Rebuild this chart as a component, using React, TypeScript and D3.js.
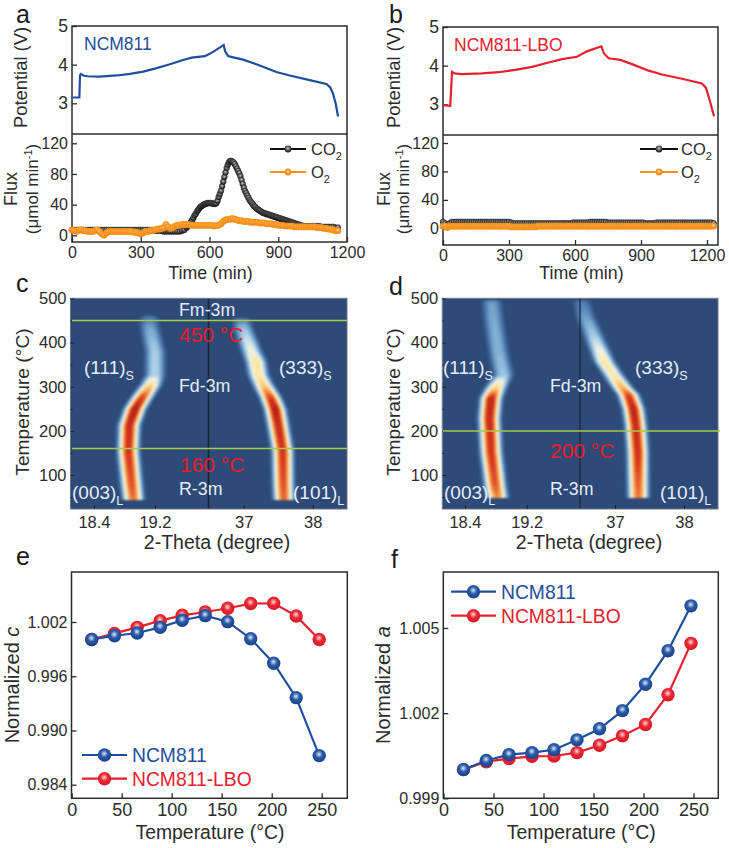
import React, { useEffect, useRef } from 'react';
import * as d3 from 'd3';

const BLUE = '#1f4e9e';
const RED = '#e8202e';
const ORANGE = '#f7911a';
const INK = '#2b2b2b';
const FONT = '"Liberation Sans", Arial, sans-serif';

// potential curves
const aTime = [3, 32, 35, 39, 49, 67, 122, 195, 253, 311, 369, 427, 485, 522, 580, 616, 662, 668, 681, 703, 747, 819, 892, 950, 1037, 1110, 1127, 1139, 1151, 1161];
const aVolt = [3.15, 3.15, 3.73, 3.76, 3.72, 3.7, 3.69, 3.72, 3.76, 3.82, 3.91, 4.01, 4.12, 4.18, 4.22, 4.33, 4.51, 4.35, 4.22, 4.19, 4.13, 3.98, 3.81, 3.72, 3.6, 3.5, 3.41, 3.25, 2.98, 2.66];
const bTime = [0, 33, 41, 53, 86, 177, 253, 329, 405, 480, 541, 609, 654, 720, 731, 753, 806, 859, 935, 995, 1086, 1177, 1195, 1210, 1232];
const bVolt = [2.98, 2.96, 3.84, 3.8, 3.78, 3.8, 3.83, 3.89, 3.97, 4.08, 4.17, 4.23, 4.37, 4.5, 4.32, 4.19, 4.15, 4.04, 3.87, 3.77, 3.66, 3.54, 3.43, 3.15, 2.69];

// flux readings: every 10 min, every 5 min through the CO2 peak of panel a
const aCO2Time = [...d3.range(0, 500, 10), ...d3.range(500, 1000, 5), ...d3.range(1000, 1165, 10)];
const aCO2 = [
  7, 7, 7, 7, 7, 7, 7, 7, 7, 7, 7, 7, 7, 7, 7, 7, 7, 7, 7, 7, 7, 7, 7, 7, 7, 7, 7, 7, 7, 7,
  7, 7, 7, 7, 7, 7, 6, 6, 6, 6, 5, 5, 5, 5, 5, 5, 5, 5, 6, 7,
  10, 12, 14, 16, 18, 20, 23, 26, 28, 31, 33, 35, 37, 38, 39, 40, 41, 41, 42, 42,
  42, 42, 42, 41, 41, 41, 42, 45, 50, 54, 58, 64, 70, 76, 82, 88, 92, 95, 97, 97,
  96, 95, 93, 90, 87, 84, 81, 77, 72, 67, 62, 58, 55, 52, 49, 46, 44, 42, 40, 38,
  37, 35, 34, 33, 32, 31, 30, 29, 29, 28, 28, 27, 27, 26, 26, 25, 25, 24, 24, 23,
  23, 22, 22, 21, 21, 20, 20, 19, 19, 18, 18, 17, 17, 16, 16, 15, 15, 14, 14, 13,
  13, 12, 12, 12, 12, 12, 12, 12, 12, 11, 11, 11, 11, 11, 11, 10, 10,
];
const aO2 = [
  7, 6, 5, 7, 7, 6, 6, 5, 5, 5, 6, 7, 5, 2, 0, 3, 5, 5, 5, 5, 5, 5, 5, 5, 5, 5, 5, 4, 4, 3,
  2, 3, 5, 5, 6, 6, 7, 8, 8, 9, 10, 14, 11, 9, 10, 12, 13, 13, 14, 14, 14, 14, 13, 13, 13, 13, 13, 13, 13, 13,
  13, 13, 12, 13, 13, 15, 18, 20, 21, 21, 22, 21, 20, 19, 19, 18, 18, 18, 17, 17, 17, 17, 16, 16, 16, 15, 15, 15, 14, 14,
  13, 13, 13, 12, 12, 12, 12, 11, 11, 11, 11, 11, 11, 11, 11, 11, 11, 10, 10, 10, 9, 9, 8, 8, 7, 6, 6,
];
const aO2Time = d3.range(0, 1165, 10);
const bFluxTime = d3.range(0, 1235, 10);
const bCO2 = [
  9, 7, 5, 7, 9, 9, 9, 9, 9, 9, 9, 9, 9, 9, 9, 9, 9, 9, 9, 9, 9, 9, 9, 9, 9, 9, 9, 9, 9, 9,
  9, 8, 7, 7, 7, 7, 7, 7, 7, 7, 7, 7, 7, 7, 7, 7, 7, 7, 7, 7, 7, 7, 7, 7, 7, 7, 7, 7, 7, 8,
  8, 8, 8, 8, 8, 8, 8, 9, 9, 9, 9, 9, 9, 9, 9, 8, 8, 8, 8, 8, 8, 8, 8, 8, 8, 8, 8, 8, 8, 8,
  8, 8, 7, 7, 7, 7, 7, 8, 8, 8, 8, 8, 8, 8, 8, 8, 8, 8, 8, 8, 8, 8, 8, 8, 8, 8, 8, 8, 8, 8, 8, 8, 8, 7,
];
const bO2 = [
  3, 3, 1, 3, 3, 3, 3, 3, 3, 3, 3, 3, 3, 3, 3, 3, 3, 3, 3, 3, 3, 3, 3, 3, 3, 3, 3, 3, 3, 3,
  3, 2, 2, 2, 2, 2, 2, 2, 2, 2, 2, 2, 2, 3, 3, 3, 3, 3, 3, 3, 3, 3, 3, 3, 3, 3, 3, 3, 3, 3,
  3, 3, 3, 3, 3, 3, 3, 3, 3, 3, 3, 3, 3, 3, 3, 3, 3, 3, 3, 3, 3, 3, 3, 3, 3, 3, 3, 3, 3, 3,
  3, 3, 3, 3, 3, 3, 3, 3, 3, 3, 3, 3, 3, 3, 3, 3, 3, 3, 3, 3, 3, 3, 3, 3, 3, 3, 3, 3, 3, 3, 3, 3, 3, 3,
];

// heatmap ridges: temperature, peak position (2-theta), peak intensity 0-1
const cLeftT = [44, 78, 153, 213, 250, 278, 304, 327, 380, 432, 462];
const cLeftPos = [18.916, 18.894, 18.85, 18.863, 18.938, 19.039, 19.144, 19.2, 19.2, 19.134, 19.12];
const cLeftI = [0.76, 0.82, 0.88, 0.92, 0.98, 0.84, 0.58, 0.3, 0.28, 0.2, 0.08];
const cRightT = [44, 78, 153, 213, 250, 278, 304, 327, 357, 380, 432, 455];
const cRightPos = [37.584, 37.574, 37.565, 37.5, 37.454, 37.381, 37.284, 37.212, 37.178, 37.116, 36.995, 36.971];
const cRightI = [0.78, 0.82, 0.88, 0.92, 0.98, 0.85, 0.6, 0.52, 0.55, 0.42, 0.26, 0.1];
const dLeftT = [48, 78, 153, 229, 274, 297, 327, 380, 455, 496];
const dLeftPos = [18.82, 18.79, 18.738, 18.716, 18.738, 18.798, 18.898, 18.833, 18.768, 18.746];
const dLeftI = [0.72, 0.82, 0.88, 0.92, 0.95, 0.6, 0.26, 0.22, 0.2, 0.17];
const dRightT = [48, 153, 214, 251, 282, 300, 327, 357, 417, 462, 496];
const dRightPos = [37.338, 37.329, 37.3, 37.265, 37.193, 37.097, 36.975, 36.845, 36.686, 36.565, 36.517];
const dRightI = [0.75, 0.9, 0.92, 0.95, 0.85, 0.65, 0.5, 0.52, 0.28, 0.17, 0.1];

// normalized lattice parameters
const tempC = [20, 42.8, 65.5, 88.5, 110.5, 133.5, 156, 179, 202, 224.5, 247.5];
const cNcm = [1.00007, 1.00048, 1.00078, 1.00141, 1.00219, 1.0027, 1.00204, 1.00015, 0.99744, 0.99363, 0.98722];
const cLbo = [1.00007, 1.00074, 1.00141, 1.00215, 1.00274, 1.00311, 1.00352, 1.00404, 1.00407, 1.00267, 1.00007];
const aNcm = [1.00001, 1.00033, 1.00054, 1.00061, 1.00071, 1.00106, 1.00145, 1.00209, 1.00302, 1.0042, 1.00578];
const aLbo = [1.00001, 1.00029, 1.0004, 1.00048, 1.00049, 1.00061, 1.00087, 1.0012, 1.0016, 1.00265, 1.00446];

type Sel = d3.Selection<any, unknown, null, undefined>;

const heatColor = d3.scaleLinear<string>()
  .domain([0, 0.1, 0.25, 0.38, 0.52, 0.68, 0.84, 1])
  .range(['#2d4a78', '#4f7fb2', '#9cc8e4', '#eef2ea', '#fbe6a0', '#f6a052', '#dc3a20', '#a41c14']);

function addSphere(defs: Sel, id: string, light: string, mid: string, dark: string) {
  const g = defs.append('radialGradient').attr('id', id)
    .attr('cx', '48%').attr('cy', '40%').attr('r', '60%');
  g.append('stop').attr('offset', '0%').attr('stop-color', light);
  g.append('stop').attr('offset', '45%').attr('stop-color', mid);
  g.append('stop').attr('offset', '100%').attr('stop-color', dark);
}

function text(g: Sel, x: number, y: number, s: string, size: number, fill = INK, anchor = 'start') {
  return g.append('text').attr('x', x).attr('y', y).attr('font-size', size)
    .attr('fill', fill).attr('text-anchor', anchor).text(s);
}

function vText(g: Sel, x: number, y: number, s: string, size: number) {
  return g.append('text').attr('transform', `translate(${x},${y}) rotate(-90)`)
    .attr('font-size', size).attr('fill', INK).attr('text-anchor', 'middle').text(s);
}

// label with a trailing subscript
function subText(g: Sel, x: number, y: number, s: string, sub: string, size: number, fill: string) {
  const t = g.append('text').attr('x', x).attr('y', y).attr('font-size', size).attr('fill', fill);
  t.append('tspan').text(s);
  t.append('tspan').attr('dy', size * 0.3).attr('font-size', size * 0.66).text(sub);
}

function fluxTitle(g: Sel, x1: number, x2: number, y: number, size: number) {
  vText(g, x1, y, 'Flux', size + 1);
  const t = vText(g, x2, y, '', size);
  t.append('tspan').text('(μmol min');
  t.append('tspan').attr('dy', -size * 0.35).attr('font-size', size * 0.65).text('-1');
  t.append('tspan').attr('dy', size * 0.35).text(')');
}

function styleAxis(a: Sel, size: number) {
  a.select('.domain').remove();
  a.selectAll('line').attr('stroke', INK).attr('stroke-width', 1.3);
  a.selectAll('text').attr('font-size', size).attr('fill', INK).attr('font-family', FONT);
}

function frame(g: Sel, x0: number, y0: number, x1: number, y1: number) {
  g.append('rect').attr('x', x0).attr('y', y0).attr('width', x1 - x0).attr('height', y1 - y0)
    .attr('fill', 'none').attr('stroke', INK).attr('stroke-width', 1.5);
}

function bottomAxis(g: Sel, scale: any, ticks: number[], y: number, size: number, pad: number, fmt?: (d: any) => string) {
  const ax = d3.axisBottom(scale).tickValues(ticks).tickSizeInner(-5).tickSizeOuter(0).tickPadding(pad);
  if (fmt) ax.tickFormat(fmt);
  const a = g.append('g').attr('transform', `translate(0,${y})`).call(ax as any);
  styleAxis(a, size);
}

function leftAxis(g: Sel, scale: any, ticks: number[], x: number, size: number, fmt?: (d: any) => string) {
  const ax = d3.axisLeft(scale).tickValues(ticks).tickSizeInner(-5).tickSizeOuter(0).tickPadding(4);
  if (fmt) ax.tickFormat(fmt);
  const a = g.append('g').attr('transform', `translate(${x},0)`).call(ax as any);
  styleAxis(a, size);
}

function drawTopPanel(
  g: Sel, x0: number, x1: number, y0: number, ym: number, y1: number, tMax: number,
  time: number[], volt: number[], co2T: number[], co2: number[], o2T: number[], o2: number[],
  voltY: [number, number], fluxY: [number, number], color: string, label: string, labelX: number,
  titleX: number, fluxX: [number, number], legendX: [number, number, number],
) {
  const x = d3.scaleLinear().domain([0, tMax]).range([x0, x1]);
  const yV = d3.scaleLinear().domain([3, 5]).range(voltY);
  const yF = d3.scaleLinear().domain([0, 120]).range(fluxY);

  frame(g, x0, y0, x1, y1);
  g.append('line').attr('x1', x0).attr('x2', x1).attr('y1', ym).attr('y2', ym)
    .attr('stroke', INK).attr('stroke-width', 1.3);

  leftAxis(g, yV, [3, 4, 5], x0, 17.5, d3.format('d'));
  leftAxis(g, yF, [0, 40, 80, 120], x0, 16, d3.format('d'));
  bottomAxis(g, x, [0, 300, 600, 900, 1200], y1, 16, 5, d3.format('d'));

  const line = d3.line<number>().x((_, i) => x(time[i])).y(d => yV(d));
  g.append('path').attr('d', line(volt)).attr('fill', 'none').attr('stroke', color).attr('stroke-width', 2.2);
  text(g, labelX, y0 + 24, label, 17.5, color);

  const fluxSeries = (times: number[], vals: number[], stroke: string, fill: string, ring: string, r: number) => {
    const fl = d3.line<number>().x((_, i) => x(times[i])).y(d => yF(d));
    g.append('path').attr('d', fl(vals)).attr('fill', 'none').attr('stroke', stroke).attr('stroke-width', 1.2);
    g.append('g').selectAll('circle').data(vals).join('circle')
      .attr('cx', (_, i) => x(times[i])).attr('cy', d => yF(d)).attr('r', r)
      .attr('fill', fill).attr('stroke', ring).attr('stroke-width', 0.5);
  };
  fluxSeries(co2T, co2, '#111', 'url(#ballK)', '#222', 2.9);
  fluxSeries(o2T, o2, ORANGE, 'url(#ballO)', ORANGE, 3.2);

  // legend
  const [lx0, lx1, tx] = legendX;
  [[149, '#111', 'url(#ballK)', 'CO'], [172, ORANGE, 'url(#ballO)', 'O']].forEach(([ly, stroke, fill, name]) => {
    g.append('line').attr('x1', lx0).attr('x2', lx1).attr('y1', ly as number).attr('y2', ly as number)
      .attr('stroke', stroke as string).attr('stroke-width', 1.8);
    g.append('circle').attr('cx', (lx0 + lx1) / 2).attr('cy', ly as number).attr('r', 3.4).attr('fill', fill as string);
    subText(g, tx, (ly as number) + 6, name as string, '2', 16.5, INK);
  });

  g.append('text').attr('x', (x0 + x1) / 2 + 1).attr('y', 279).attr('font-size', 17.8)
    .attr('fill', INK).attr('text-anchor', 'middle').text('Time (min)');
  vText(g, titleX, 77.5, 'Potential (V)', 18.4);
  fluxTitle(g, fluxX[0], fluxX[1], 189, 17);
}

function drawRidge(g: Sel, xs: any, y: any, temps: number[], pos: number[], ints: number[], width: number) {
  const cen = d3.scaleLinear().domain(temps).range(pos);
  const amp = d3.scaleLinear().domain(temps).range(ints);
  const [tLo, tHi] = d3.extent(temps) as [number, number];
  const rows = d3.range(tLo, tHi + 0.01, 3);
  const levels = d3.range(0.025, 1, 0.025);
  // flat-topped peak profile
  const half = (t: number, lv: number) => {
    const a = amp(t);
    return a <= lv ? 0 : width * Math.pow(Math.log(a / lv), 0.4);
  };
  levels.forEach(lv => {
    const area = d3.area<number>()
      .defined(t => amp(t) > lv)
      .y(t => y(t))
      .x0(t => xs(cen(t) - half(t, lv)))
      .x1(t => xs(cen(t) + half(t, lv)))
      .curve(d3.curveBasis);
    g.append('path').attr('d', area(rows)).attr('fill', heatColor(lv));
  });
}

function drawHeat(
  g: Sel, id: string, x0: number, x1: number, breakX: number, leftR: [number, number], rightR: [number, number],
  left: [number[], number[], number[]], right: [number[], number[], number[]], lineW: number,
) {
  const y0 = 298.3, y1 = 509;
  const xL = d3.scaleLinear().domain([18.4, 19.2]).range(leftR);
  const xR = d3.scaleLinear().domain([37, 38]).range(rightR);
  const y = d3.scaleLinear().domain([100, 500]).range([475, 298.5]);

  g.append('clipPath').attr('id', id).append('rect').attr('x', x0).attr('y', y0)
    .attr('width', x1 - x0).attr('height', y1 - y0);
  const inner = g.append('g').attr('clip-path', `url(#${id})`);
  inner.append('rect').attr('x', x0).attr('y', y0).attr('width', x1 - x0).attr('height', y1 - y0).attr('fill', '#2d4a78');
  const blur = inner.append('g').attr('filter', 'url(#soft)');
  drawRidge(blur, xL, y, left[0], left[1], left[2], 0.11);
  drawRidge(blur, xR, y, right[0], right[1], right[2], 0.12);
  inner.append('line').attr('x1', breakX).attr('x2', breakX).attr('y1', y0).attr('y2', y1)
    .attr('stroke', '#1c2530').attr('stroke-width', lineW);

  g.append('rect').attr('x', x0).attr('y', y0).attr('width', x1 - x0).attr('height', y1 - y0)
    .attr('fill', 'none').attr('stroke', '#6d7680').attr('stroke-width', 1);

  const ay = d3.axisLeft(y).tickValues([100, 200, 300, 400, 500]).tickSizeInner(-4).tickSizeOuter(0)
    .tickPadding(4).tickFormat(d3.format('d') as any);
  const ga = g.append('g').attr('transform', `translate(${x0},0)`).call(ay as any);
  styleAxis(ga, 16.5);
  ga.selectAll('line').attr('stroke', '#1c2530').attr('stroke-width', 1);

  const minor = d3.axisLeft(y).tickValues([50, 150, 250, 350, 450]).tickSizeInner(-2).tickSizeOuter(0).tickFormat(() => '');
  const gm = g.append('g').attr('transform', `translate(${x0},0)`).call(minor as any);
  gm.select('.domain').remove();
  gm.selectAll('line').attr('stroke', '#1c2530').attr('stroke-width', 1);

  [[xL, [18.4, 19.2], (d: number) => d.toFixed(1)], [xR, [37, 38], (d: number) => d3.format('d')(d)]].forEach(([sc, ticks, fmt]: any) => {
    const ax = d3.axisBottom(sc).tickValues(ticks).tickSizeInner(-4).tickSizeOuter(0).tickPadding(7).tickFormat(fmt);
    const gx = g.append('g').attr('transform', `translate(0,${y1})`).call(ax as any);
    styleAxis(gx, 16.5);
    gx.selectAll('line').attr('stroke', '#1c2530').attr('stroke-width', 1);
  });
}

function drawLattice(
  g: Sel, x0: number, x1: number, yDomain: [number, number], yRange: [number, number], yTicks: number[],
  ncm: number[], lbo: number[], title: string, titleVar: string, titleX: number, titleY: number, titleSize: number,
  legend: { lx: number; ys: [number, number] },
) {
  const y0 = 572, y1 = 798.3;
  const x = d3.scaleLinear().domain([0, 50]).range([x0 + 0.2, x0 + 50.2]);
  const y = d3.scaleLinear().domain(yDomain).range(yRange);

  frame(g, x0, y0, x1, y1);
  leftAxis(g, y, yTicks, x0, 16, d3.format('.3f'));
  bottomAxis(g, x, [0, 50, 100, 150, 200, 250], y1, 18, 5, d3.format('d'));

  const line = d3.line<number>().x((_, i) => x(tempC[i])).y(d => y(d));
  [[lbo, RED, 'url(#ballR)'], [ncm, BLUE, 'url(#ballB)']].forEach(([vals, col, fill]: any) => {
    g.append('path').attr('d', line(vals)).attr('fill', 'none').attr('stroke', col).attr('stroke-width', 2.2);
    g.append('g').selectAll('circle').data(vals as number[]).join('circle')
      .attr('cx', (_, i) => x(tempC[i])).attr('cy', d => y(d)).attr('r', 6.7).attr('fill', fill);
  });

  const names: [string, string, string][] = [['NCM811', BLUE, 'url(#ballB)'], ['NCM811-LBO', RED, 'url(#ballR)']];
  names.forEach(([name, col, fill], i) => {
    const ly = legend.ys[i];
    g.append('line').attr('x1', legend.lx).attr('x2', legend.lx + 45).attr('y1', ly).attr('y2', ly)
      .attr('stroke', col).attr('stroke-width', 2.2);
    g.append('circle').attr('cx', legend.lx + 22.5).attr('cy', ly).attr('r', 6.7).attr('fill', fill);
    text(g, legend.lx + 50, ly + 7, name, 19.3, col);
  });

  g.append('text').attr('x', (x0 + x1) / 2 + 0.5).attr('y', 839).attr('font-size', 19.4)
    .attr('fill', INK).attr('text-anchor', 'middle').text('Temperature (°C)');
  const t = vText(g, titleX, titleY, '', titleSize);
  t.append('tspan').text(title);
  t.append('tspan').attr('font-style', 'italic').text(titleVar);
}

export default function App() {
  const ref = useRef<SVGSVGElement>(null);

  useEffect(() => {
    const svg = d3.select(ref.current);
    svg.selectAll('*').remove();
    const g = svg.append('g').attr('font-family', FONT) as unknown as Sel;

    const defs = svg.append('defs') as unknown as Sel;
    addSphere(defs, 'ballB', '#dfe8f4', '#2a5aa8', '#17418c');
    addSphere(defs, 'ballR', '#fbdcdc', '#ea2a36', '#d81622');
    addSphere(defs, 'ballK', '#c4c4c4', '#666', '#0c0c0c');
    addSphere(defs, 'ballO', '#ffe2b5', '#fa9a28', '#f28a10');
    defs.append('filter').attr('id', 'soft').attr('x', '-5%').attr('y', '-5%').attr('width', '110%').attr('height', '110%')
      .append('feGaussianBlur').attr('stdDeviation', 1.1);

    // panel letters
    ([['a', 16, 23], ['b', 389, 23], ['c', 16, 292], ['d', 389, 295], ['e', 16, 565], ['f', 391, 568]] as [string, number, number][])
      .forEach(([s, x, y]) => text(g, x, y, s, 25, '#1a1a1a'));

    drawTopPanel(g, 72, 347, 26, 134, 242, 1200, aTime, aVolt, aCO2Time, aCO2, aO2Time, aO2, [103.3, 26], [235.3, 143.3], BLUE, 'NCM811', 84,
      27, [16.5, 38], [270, 306, 311]);
    drawTopPanel(g, 443, 718, 27, 135, 245, 1250, bTime, bVolt, bFluxTime, bCO2, bFluxTime, bO2, [104.3, 27], [228.3, 143], RED, 'NCM811-LBO', 454,
      400, [390, 409], [640, 678, 681]);

    drawHeat(g, 'clipC', 70.5, 347, 208.5, [94, 155], [243.7, 312.7], [cLeftT, cLeftPos, cLeftI], [cRightT, cRightPos, cRightI], 1.6);
    drawHeat(g, 'clipD', 442.3, 718, 580, [465, 526.7], [615, 684], [dLeftT, dLeftPos, dLeftI], [dRightT, dRightPos, dRightI], 1.2);

    // heatmap annotations
    const tempY = d3.scaleLinear().domain([100, 500]).range([475, 298.5]);
    const GREEN = '#a8c94a';
    g.append('line').attr('x1', 72).attr('x2', 347).attr('y1', tempY(450)).attr('y2', tempY(450)).attr('stroke', GREEN).attr('stroke-width', 1.5);
    g.append('line').attr('x1', 72).attr('x2', 347).attr('y1', tempY(160)).attr('y2', tempY(160)).attr('stroke', GREEN).attr('stroke-width', 1.5);
    g.append('line').attr('x1', 443).attr('x2', 720).attr('y1', tempY(200)).attr('y2', tempY(200)).attr('stroke', GREEN).attr('stroke-width', 1.5);

    const W = '#e6edf5';
    const R2 = '#ee1c25';
    text(g, 179, 316, 'Fm-3m', 17.8, W);
    text(g, 179, 342, '450 °C', 21, R2);
    text(g, 179, 392, 'Fd-3m', 17.8, W);
    text(g, 180, 472, '160 °C', 21, R2);
    text(g, 179, 495, 'R-3m', 17.8, W);
    subText(g, 84, 374, '(111)', 'S', 19, W);
    subText(g, 279, 374, '(333)', 'S', 19, W);
    subText(g, 72, 499, '(003)', 'L', 19, W);
    subText(g, 293, 499, '(101)', 'L', 19, W);

    text(g, 550, 392, 'Fd-3m', 17.8, W);
    text(g, 550, 458, '200 °C', 21, R2);
    text(g, 550, 495, 'R-3m', 17.8, W);
    subText(g, 443, 374, '(111)', 'S', 19, W);
    subText(g, 635, 374, '(333)', 'S', 19, W);
    subText(g, 444, 499, '(003)', 'L', 19, W);
    subText(g, 660, 499, '(101)', 'L', 19, W);

    text(g, 217, 549, '2-Theta (degree)', 19.5, INK, 'middle');
    text(g, 589, 549, '2-Theta (degree)', 19.5, INK, 'middle');
    vText(g, 29, 402, 'Temperature (°C)', 19.2);
    vText(g, 400, 402, 'Temperature (°C)', 19.2);

    drawLattice(g, 71.5, 347.3, [0.984, 1.002], [784.7, 622], [0.984, 0.99, 0.996, 1.002], cNcm, cLbo,
      'Normalized ', 'c', 18.5, 685, 20, { lx: 82, ys: [755, 778.7] });
    drawLattice(g, 443.3, 718.3, [0.999, 1.005], [798.3, 628], [0.999, 1.002, 1.005], aNcm, aLbo,
      'Normalized ', 'a', 390, 685, 20, { lx: 451, ys: [591.7, 615.7] });
  }, []);

  return <svg ref={ref} width={729} height={848} style={{ position: 'absolute', left: 0, top: 0, background: '#fff' }} />;
}
